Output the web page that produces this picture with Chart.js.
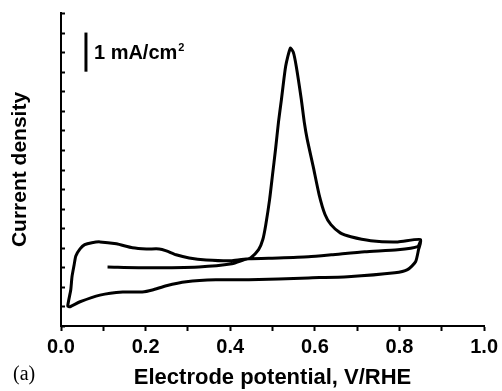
<!DOCTYPE html>
<html>
<head>
<meta charset="utf-8">
<title>CO stripping voltammogram</title>
<script src="https://cdn.jsdelivr.net/npm/chart.js@4.4.1/dist/chart.umd.min.js"></script>
<style>
  html, body { margin: 0; padding: 0; background: #fff; }
  #wrap { width: 502px; height: 391px; position: relative; }
</style>
</head>
<body>
<div id="wrap"><canvas id="cv"></canvas></div>
<script>
// ── Data ──
// potential in V vs RHE, current in mA/cm2 (offset, y axis has no labels)
const potentialV = [
  0.110, 0.209, 0.326, 0.404, 0.432, 0.448,
  0.467, 0.477, 0.484, 0.493, 0.500, 0.507, 0.514, 0.521, 0.531, 0.542,
  0.549, 0.556, 0.568, 0.575, 0.582, 0.596, 0.610, 0.624, 0.638, 0.660, 0.685, 0.732, 0.796, 0.850,
  0.845, 0.838, 0.819, 0.789, 0.678, 0.585, 0.444, 0.366, 0.296, 0.249, 0.216, 0.192, 0.146, 0.092, 0.045, 0.021, 0.016,
  0.023, 0.026, 0.031, 0.035, 0.045, 0.056, 0.073, 0.092, 0.131, 0.169, 0.202, 0.232, 0.249, 0.272, 0.303, 0.343, 0.404,
  0.444, 0.514, 0.585, 0.639, 0.718, 0.796, 0.843, 0.850
];
const currentDensity = [
  1.51, 1.49, 1.51, 1.59, 1.69, 1.74,
  1.95, 2.21, 2.59, 3.23, 3.87, 4.51, 5.21, 5.79, 6.64, 7.10,
  7.00, 6.64, 5.79, 5.21, 4.77, 4.08, 3.36, 2.85, 2.59, 2.38, 2.28, 2.18, 2.15, 2.21,
  1.95, 1.64, 1.44, 1.36, 1.26, 1.23, 1.18, 1.18, 1.13, 1.03, 0.92, 0.87, 0.87, 0.79, 0.62, 0.49, 0.51,
  0.92, 1.26, 1.56, 1.79, 1.97, 2.08, 2.13, 2.15, 2.10, 2.00, 1.97, 1.97, 1.92, 1.82, 1.74, 1.69, 1.67,
  1.72, 1.74, 1.77, 1.82, 1.90, 1.95, 2.03, 2.18
];

const xMin = 0, xMax = 1.0, xStep = 0.1;
const yMin = 0, yMax = 8, yStep = 0.5;

// scale bar: 1 mA/cm2
const scaleBarValue = 1;
const scaleBarTop = 7.5;
const scaleBarX = 0.059;
const scaleBarLabel = '1 mA/cm';
const panelLabel = '(a)';

const points = potentialV.map((v, i) => ({ x: v, y: currentDensity[i] }));

const sans = "'Liberation Sans', Arial, sans-serif";

// ── Extras: inner y ticks, scale bar, panel label ──
const extras = {
  id: 'extras',
  afterDraw(chart) {
    const { ctx, scales: { x, y } } = chart;
    ctx.save();
    ctx.strokeStyle = '#000';
    ctx.fillStyle = '#000';

    // y ticks, pointing inwards
    ctx.lineWidth = 2;
    y.ticks.forEach(t => {
      const py = Math.round(y.getPixelForValue(t.value)) + 0.5;
      ctx.beginPath();
      ctx.moveTo(x.left, py);
      ctx.lineTo(x.left + 4, py);
      ctx.stroke();
    });

    // scale bar
    const bx = x.getPixelForValue(scaleBarX);
    const by1 = y.getPixelForValue(scaleBarTop);
    const by2 = y.getPixelForValue(scaleBarTop - scaleBarValue);
    ctx.lineWidth = 3;
    ctx.beginPath();
    ctx.moveTo(bx, by1);
    ctx.lineTo(bx, by2);
    ctx.stroke();

    ctx.font = 'bold 20px ' + sans;
    ctx.textBaseline = 'alphabetic';
    ctx.textAlign = 'left';
    const tx = bx + 8, ty = (by1 + by2) / 2 + 7;
    ctx.fillText(scaleBarLabel, tx, ty);
    const w = ctx.measureText(scaleBarLabel).width;
    ctx.font = 'bold 11px ' + sans;
    ctx.fillText('2', tx + w + 1, ty - 8);

    // panel label
    ctx.font = "20px 'Liberation Serif', 'Times New Roman', serif";
    ctx.textBaseline = 'middle';
    ctx.fillText(panelLabel, 13, 375);
    ctx.restore();
  }
};

new Chart(document.getElementById('cv'), {
  type: 'scatter',
  data: {
    datasets: [{
      data: points,
      showLine: true,
      borderColor: '#000',
      borderWidth: 3,
      pointRadius: 0,
      tension: 0.2,
      fill: false
    }]
  },
  options: {
    responsive: true,
    maintainAspectRatio: false,
    animation: false,
    layout: { padding: { top: 13, right: 15, left: 0, bottom: 0 } },
    plugins: { legend: { display: false }, tooltip: { enabled: false } },
    scales: {
      x: {
        type: 'linear',
        min: xMin, max: xMax,
        afterFit: s => { s.height = 65; },
        grid: { display: true, drawOnChartArea: false, drawTicks: true, tickLength: 5, tickColor: '#000', tickWidth: 2 },
        border: { display: true, color: '#000', width: 2 },
        ticks: {
          stepSize: xStep,
          color: '#000',
          padding: 4,
          maxRotation: 0,
          autoSkip: false,
          font: { family: sans, size: 20, weight: 'bold' },
          callback: v => (Math.round(v * 10) % 2 === 0 ? v.toFixed(1) : '')
        },
        title: {
          display: true,
          text: 'Electrode potential, V/RHE',
          color: '#000',
          font: { family: sans, size: 22, weight: 'bold' },
          padding: { top: 0, bottom: 0 }
        }
      },
      y: {
        type: 'linear',
        min: yMin, max: yMax,
        afterFit: s => { s.width = 61; },
        grid: { display: false },
        border: { display: true, color: '#000', width: 2 },
        ticks: { stepSize: yStep, display: false },
        title: {
          display: true,
          text: 'Current density',
          color: '#000',
          font: { family: sans, size: 21, weight: 'bold' },
          padding: { top: 8, bottom: 0 }
        }
      }
    }
  },
  plugins: [extras]
});
</script>
</body>
</html>
